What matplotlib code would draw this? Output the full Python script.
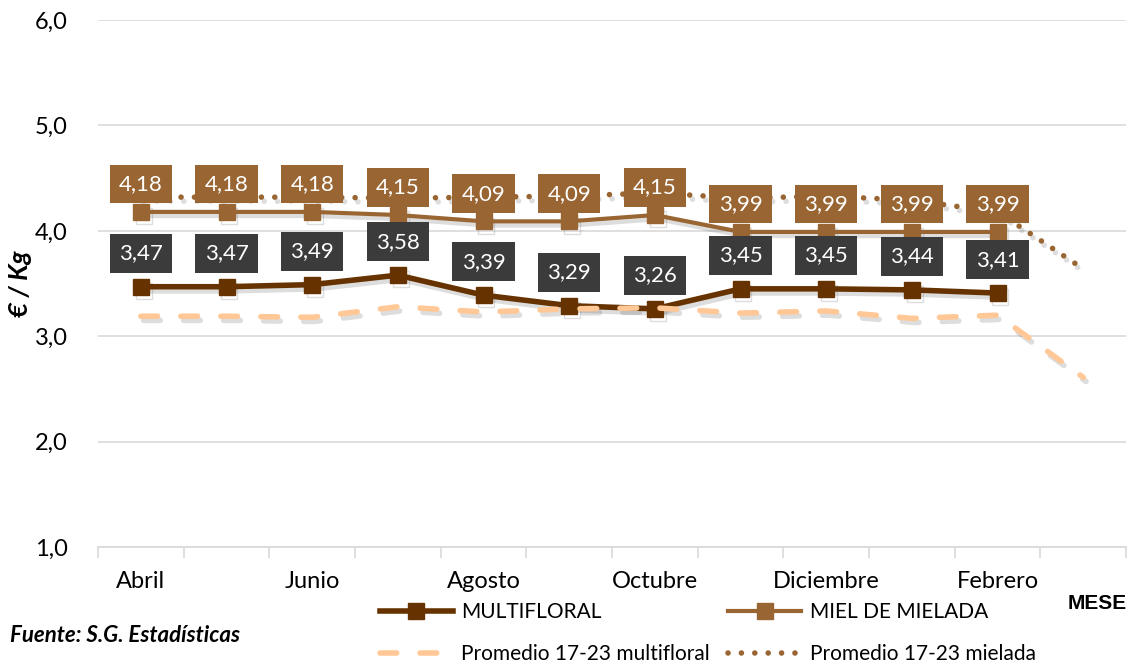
import matplotlib
matplotlib.use("Agg")
import matplotlib.pyplot as plt
import matplotlib.patheffects as pe
import numpy as np

plt.rcParams['font.family'] = ['Lato', 'DejaVu Sans']

# Data
meses = ['Abril', 'Mayo', 'Junio', 'Julio', 'Agosto', 'Septiembre', 'Octubre',
         'Noviembre', 'Diciembre', 'Enero', 'Febrero', 'Marzo']
multifloral = [3.47, 3.47, 3.49, 3.58, 3.39, 3.29, 3.26, 3.45, 3.45, 3.44, 3.41]
mielada = [4.18, 4.18, 4.18, 4.15, 4.09, 4.09, 4.15, 3.99, 3.99, 3.99, 3.99]
prom_multifloral = [3.19, 3.19, 3.18, 3.28, 3.23, 3.26, 3.27, 3.22, 3.24, 3.17, 3.20, 2.61]
prom_mielada = [4.32, 4.32, 4.32, 4.31, 4.32, 4.33, 4.36, 4.31, 4.33, 4.29, 4.18, 3.64]

c_multi = '#663300'
c_miel = '#996633'
c_prom_multi = '#FFC896'
c_label_multi = '#3B3B3B'

dash_style = (0, (3, 4.2))
dot_style = (0, (0.01, 2.4))


def fmt(v):
    return f'{v:.2f}'.replace('.', ',')


# only the shadow (no normal stroke), drawn under the real lines
shadow_only = [pe.SimpleLineShadow(offset=(2, -3), alpha=0.18, shadow_color='#444444')]

fig = plt.figure(figsize=(11.36, 6.68), dpi=100)
ax = fig.add_axes([0.0863, 0.181, 0.905, 0.789])

x_all = np.arange(len(meses))
x_sub = np.arange(len(multifloral))

# shadows
ax.plot(x_sub, multifloral, color=c_multi, lw=4, marker='s', ms=11.5, path_effects=shadow_only, zorder=1)
ax.plot(x_sub, mielada, color=c_miel, lw=3, marker='s', ms=11.5, path_effects=shadow_only, zorder=1)
ax.plot(x_all, prom_multifloral, color=c_prom_multi, lw=4, ls=dash_style,
        dash_capstyle='round', path_effects=shadow_only, zorder=1)
ax.plot(x_all, prom_mielada, color=c_miel, lw=4, ls=dot_style,
        dash_capstyle='round', path_effects=shadow_only, zorder=1)

l1, = ax.plot(x_sub, multifloral, color=c_multi, lw=4, marker='s', ms=11.5,
              label='MULTIFLORAL', zorder=3)
l2, = ax.plot(x_sub, mielada, color=c_miel, lw=3, marker='s', ms=11.5,
              label='MIEL DE MIELADA', zorder=3)
l3, = ax.plot(x_all, prom_multifloral, color=c_prom_multi, lw=4, ls=dash_style,
              dash_capstyle='round', label='Promedio 17-23 multifloral', zorder=4)
l4, = ax.plot(x_all, prom_mielada, color=c_miel, lw=4, ls=dot_style,
              dash_capstyle='round', label='Promedio 17-23 mielada', zorder=2)

# data labels
for i, v in enumerate(multifloral):
    ax.annotate(fmt(v), (i, v), xytext=(0, 24), textcoords='offset points',
                ha='center', va='center', color='white', fontsize=16, zorder=6,
                bbox=dict(boxstyle='square,pad=0.42', fc=c_label_multi, ec='none'))
for i, v in enumerate(mielada):
    ax.annotate(fmt(v), (i, v), xytext=(0, 20), textcoords='offset points',
                ha='center', va='center', color='white', fontsize=16, zorder=6,
                bbox=dict(boxstyle='square,pad=0.42', fc=c_miel, ec='none'))

ax.set_xlim(-0.5, len(meses) - 0.5)
ax.set_ylim(1.0, 6.0)
ax.set_yticks(np.arange(1, 7))
ax.set_yticklabels([f'{v:.1f}'.replace('.', ',') for v in np.arange(1, 7)], fontsize=17)
ax.yaxis.grid(True, color='#D9D9D9', lw=1.2)
ax.set_axisbelow(True)

ax.set_xticks(x_all[::2])
ax.set_xticklabels(meses[::2], fontsize=17)
ax.set_xticks(np.arange(-0.5, len(meses)), minor=True)
ax.tick_params(axis='x', which='major', length=0, pad=17)
ax.tick_params(axis='x', which='minor', length=8, color='#D9D9D9', width=1.2)
ax.tick_params(axis='y', length=0, pad=22)

for s in ['top', 'right', 'left']:
    ax.spines[s].set_visible(False)
ax.spines['bottom'].set_color('#D9D9D9')
ax.spines['bottom'].set_linewidth(1.2)

ax.set_ylabel('€ / Kg', fontsize=18.5, fontweight='bold', fontstyle='italic', labelpad=2)

fig.text(0.940, 0.097, 'MESE', fontsize=15, fontweight='bold', ha='left', va='center',
         family='Liberation Sans')
fig.text(0.009, 0.048, 'Fuente: S.G. Estadísticas', fontsize=16, fontweight='bold',
         fontstyle='italic', ha='left', va='center')

fig.legend(handles=[l1, l3, l2, l4], ncol=2, loc='center',
           bbox_to_anchor=(0.623, 0.052), frameon=False, fontsize=15,
           handlelength=3.5, columnspacing=0.9, handletextpad=0.4, labelspacing=1.05)

fig.savefig('out.png', dpi=100)
